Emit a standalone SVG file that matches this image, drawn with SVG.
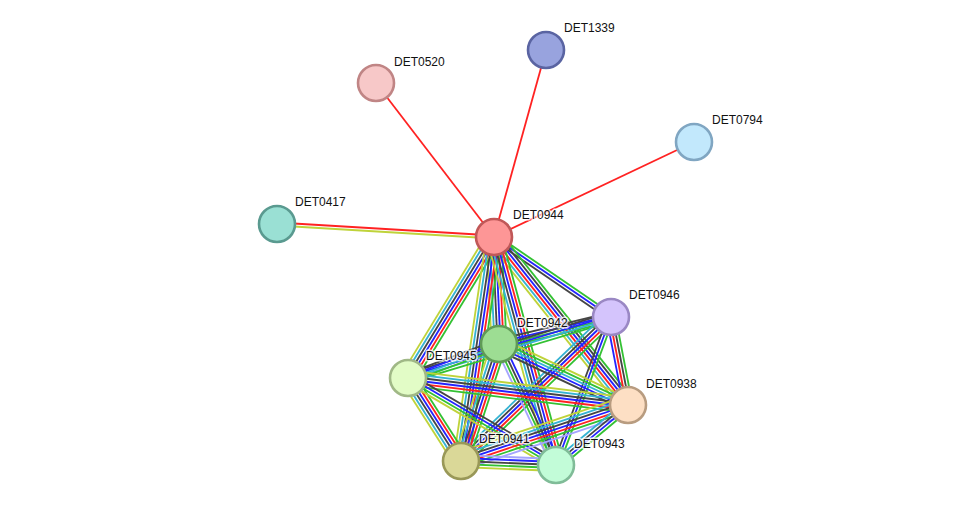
<svg xmlns="http://www.w3.org/2000/svg" width="975" height="511" viewBox="0 0 975 511">
<style>
line{stroke-width:1.8;fill:none}
#edges g line{stroke-width:1.6}
.g{stroke:#33c133}.r{stroke:#ff2222}.b{stroke:#2323ff}.k{stroke:#454545}.c{stroke:#35b3d3}.y{stroke:#bfd33a}.h{stroke:#a4a4ff}
circle{stroke-width:2.6}
text{font-family:"Liberation Sans",Arial,sans-serif;font-size:12px;fill:#111;stroke:#fff;stroke-width:3;stroke-opacity:0.8;paint-order:stroke;stroke-linejoin:round}
</style>
<rect width="975" height="511" fill="#fff"/>
<g id="edges">
<line class="r" x1="494" y1="237" x2="546" y2="50"/>
<line class="r" x1="494" y1="237" x2="376" y2="83"/>
<line class="r" x1="494" y1="237" x2="694" y2="142"/>
<line class="r" x1="494" y1="235.5" x2="277" y2="222.5"/>
<line class="y" x1="494" y1="238.5" x2="277" y2="225.5"/>
<!-- A-B -->
<g transform="translate(494,237) rotate(34.36) scale(1,1.15)"><line class="g" x2="141.7" y1="-2.6" y2="-2.6"/><line class="b" x2="141.7"/><line class="k" x2="141.7" y1="2.6" y2="2.6"/></g>
<!-- A-C -->
<g transform="translate(494,237) rotate(87.32) scale(1,1.15)"><line class="g" x2="107.1" y1="-6.5" y2="-6.5"/><line class="r" x2="107.1" y1="-3.9" y2="-3.9"/><line class="b" x2="107.1" y1="-1.3" y2="-1.3"/><line class="k" x2="107.1" y1="1.3" y2="1.3"/><line class="c" x2="107.1" y1="3.9" y2="3.9"/><line class="y" x2="107.1" y1="6.5" y2="6.5"/></g>
<!-- A-D -->
<g transform="translate(494,237) rotate(121.38) scale(1,1.15)"><line class="g" x2="165.2" y1="-6.5" y2="-6.5"/><line class="r" x2="165.2" y1="-3.9" y2="-3.9"/><line class="b" x2="165.2" y1="-1.3" y2="-1.3"/><line class="k" x2="165.2" y1="1.3" y2="1.3"/><line class="c" x2="165.2" y1="3.9" y2="3.9"/><line class="y" x2="165.2" y1="6.5" y2="6.5"/></g>
<!-- A-E -->
<g transform="translate(494,237) rotate(51.42) scale(1,1.15)"><line class="g" x2="214.9" y1="-6.5" y2="-6.5"/><line class="k" x2="214.9" y1="-3.9" y2="-3.9"/><line class="b" x2="214.9" y1="-1.3" y2="-1.3"/><line class="r" x2="214.9" y1="1.3" y2="1.3"/><line class="c" x2="214.9" y1="3.9" y2="3.9"/><line class="y" x2="214.9" y1="6.5" y2="6.5"/></g>
<!-- A-F -->
<g transform="translate(494,237) rotate(98.38) scale(1,1.15)"><line class="g" x2="226.4" y1="-6.5" y2="-6.5"/><line class="r" x2="226.4" y1="-3.9" y2="-3.9"/><line class="b" x2="226.4" y1="-1.3" y2="-1.3"/><line class="k" x2="226.4" y1="1.3" y2="1.3"/><line class="c" x2="226.4" y1="3.9" y2="3.9"/><line class="y" x2="226.4" y1="6.5" y2="6.5"/></g>
<!-- A-G -->
<g transform="translate(494,237) rotate(74.79) scale(1,1.15)"><line class="g" x2="236.3" y1="-6.5" y2="-6.5"/><line class="r" x2="236.3" y1="-3.9" y2="-3.9"/><line class="b" x2="236.3" y1="-1.3" y2="-1.3"/><line class="k" x2="236.3" y1="1.3" y2="1.3"/><line class="c" x2="236.3" y1="3.9" y2="3.9"/><line class="y" x2="236.3" y1="6.5" y2="6.5"/></g>
<!-- B-C -->
<g transform="translate(611,317) rotate(166.45) scale(1,1.15)"><line class="g" x2="115.2" y1="-3.9" y2="-3.9"/><line class="g" x2="115.2" y1="-1.3" y2="-1.3"/><line class="b" x2="115.2" y1="1.3" y2="1.3"/><line class="k" x2="115.2" y1="3.9" y2="3.9"/></g>
<!-- B-D -->
<g transform="translate(611,317) rotate(163.28) scale(1,1.15)"><line class="g" x2="212" y1="-3.9" y2="-3.9"/><line class="c" x2="212" y1="-1.3" y2="-1.3"/><line class="b" x2="212" y1="1.3" y2="1.3"/><line class="k" x2="212" y1="3.9" y2="3.9"/></g>
<!-- B-E -->
<g transform="translate(611,317) rotate(79.07) scale(1,1.15)"><line class="g" x2="89.6" y1="-3.9" y2="-3.9"/><line class="k" x2="89.6" y1="-1.3" y2="-1.3"/><line class="r" x2="89.6" y1="1.3" y2="1.3"/><line class="b" x2="89.6" y1="3.9" y2="3.9"/></g>
<!-- B-F -->
<g transform="translate(611,317) rotate(136.17) scale(1,1.15)"><line class="g" x2="207.9" y1="-5.2" y2="-5.2"/><line class="r" x2="207.9" y1="-2.6" y2="-2.6"/><line class="b" x2="207.9"/><line class="k" x2="207.9" y1="2.6" y2="2.6"/><line class="c" x2="207.9" y1="5.2" y2="5.2"/></g>
<!-- B-G -->
<g transform="translate(611,317) rotate(110.38) scale(1,1.15)"><line class="g" x2="157.9" y1="-2.6" y2="-2.6"/><line class="b" x2="157.9"/><line class="k" x2="157.9" y1="2.6" y2="2.6"/></g>
<!-- C-D -->
<g transform="translate(499,344) rotate(159.51) scale(1,1.15)"><line class="g" x2="97.1" y1="-3.9" y2="-3.9"/><line class="c" x2="97.1" y1="-1.3" y2="-1.3"/><line class="b" x2="97.1" y1="1.3" y2="1.3"/><line class="k" x2="97.1" y1="3.9" y2="3.9"/></g>
<!-- C-E -->
<g transform="translate(499,344) rotate(25.31) scale(1,1.15)"><line class="y" x2="142.7" y1="-5.2" y2="-5.2"/><line class="g" x2="142.7" y1="-2.6" y2="-2.6"/><line class="c" x2="142.7"/><line class="b" x2="142.7" y1="2.6" y2="2.6"/><line class="k" x2="142.7" y1="5.2" y2="5.2"/></g>
<!-- C-F -->
<g transform="translate(499,344) rotate(107.99) scale(1,1.15)"><line class="g" x2="123" y1="-6.5" y2="-6.5"/><line class="r" x2="123" y1="-3.9" y2="-3.9"/><line class="b" x2="123" y1="-1.3" y2="-1.3"/><line class="k" x2="123" y1="1.3" y2="1.3"/><line class="c" x2="123" y1="3.9" y2="3.9"/><line class="y" x2="123" y1="6.5" y2="6.5"/></g>
<!-- C-G -->
<g transform="translate(499,344) rotate(64.78) scale(1,1.15)"><line class="b" x2="133.8" y1="-3.9" y2="-3.9"/><line class="k" x2="133.8" y1="-1.3" y2="-1.3"/><line class="g" x2="133.8" y1="1.3" y2="1.3"/><line class="h" x2="133.8" y1="3.9" y2="3.9"/></g>
<!-- D-E -->
<g transform="translate(408,378) rotate(7) scale(1,1.15)"><line class="y" x2="221.7" y1="-6.5" y2="-6.5"/><line class="c" x2="221.7" y1="-3.9" y2="-3.9"/><line class="k" x2="221.7" y1="-1.3" y2="-1.3"/><line class="b" x2="221.7" y1="1.3" y2="1.3"/><line class="r" x2="221.7" y1="3.9" y2="3.9"/><line class="g" x2="221.7" y1="6.5" y2="6.5"/></g>
<!-- D-F -->
<g transform="translate(408,378) rotate(57.44) scale(1,1.15)"><line class="g" x2="98.5" y1="-6.5" y2="-6.5"/><line class="r" x2="98.5" y1="-3.9" y2="-3.9"/><line class="b" x2="98.5" y1="-1.3" y2="-1.3"/><line class="k" x2="98.5" y1="1.3" y2="1.3"/><line class="c" x2="98.5" y1="3.9" y2="3.9"/><line class="y" x2="98.5" y1="6.5" y2="6.5"/></g>
<!-- D-G -->
<g transform="translate(408,378) rotate(30.45) scale(1,1.15)"><line class="k" x2="171.7" y1="-3.9" y2="-3.9"/><line class="b" x2="171.7" y1="-1.3" y2="-1.3"/><line class="g" x2="171.7" y1="1.3" y2="1.3"/><line class="y" x2="171.7" y1="3.9" y2="3.9"/></g>
<!-- E-F -->
<g transform="translate(628,405) rotate(161.46) scale(1,1.15)"><line class="h" x2="176.1" y1="-7.8" y2="-7.8"/><line class="g" x2="176.1" y1="-5.2" y2="-5.2"/><line class="r" x2="176.1" y1="-2.6" y2="-2.6"/><line class="b" x2="176.1"/><line class="k" x2="176.1" y1="2.6" y2="2.6"/><line class="c" x2="176.1" y1="5.2" y2="5.2"/><line class="y" x2="176.1" y1="7.8" y2="7.8"/></g>
<!-- E-G -->
<g transform="translate(628,405) rotate(140.19) scale(1,1.15)"><line class="g" x2="93.7" y1="-3.9" y2="-3.9"/><line class="b" x2="93.7" y1="-1.3" y2="-1.3"/><line class="k" x2="93.7" y1="1.3" y2="1.3"/><line class="c" x2="93.7" y1="3.9" y2="3.9"/></g>
<!-- F-G -->
<g transform="translate(461,461) rotate(2.41) scale(1,1.15)"><line class="h" x2="95.1" y1="-5.2" y2="-5.2"/><line class="b" x2="95.1" y1="-2.6" y2="-2.6"/><line class="k" x2="95.1"/><line class="g" x2="95.1" y1="2.6" y2="2.6"/><line class="y" x2="95.1" y1="5.2" y2="5.2"/></g>
</g>
<g id="DET1339"><circle cx="546" cy="50" r="18" fill="#98a3de" stroke="#5a64a2"/><text x="564" y="32">DET1339</text></g>
<g id="DET0520"><circle cx="376" cy="83" r="18" fill="#f7c8c8" stroke="#c08585"/><text x="394" y="66">DET0520</text></g>
<g id="DET0794"><circle cx="694" cy="142" r="18" fill="#c2e8fc" stroke="#80a6c2"/><text x="712" y="124">DET0794</text></g>
<g id="DET0417"><circle cx="277" cy="224" r="18" fill="#9ae0d4" stroke="#5a9a90"/><text x="295" y="206">DET0417</text></g>
<g id="DET0944"><circle cx="494" cy="237" r="18" fill="#fd9696" stroke="#c05858"/><text x="513" y="219">DET0944</text></g>
<g id="DET0946"><circle cx="611" cy="317" r="18" fill="#d4c4fc" stroke="#9a88c4"/><text x="629" y="299">DET0946</text></g>
<g id="DET0942"><circle cx="499" cy="344" r="18" fill="#9ddd93" stroke="#5f9a56"/><text x="517" y="327">DET0942</text></g>
<g id="DET0945"><circle cx="408" cy="378" r="18" fill="#e2fcc6" stroke="#a0b886"/><text x="426" y="360">DET0945</text></g>
<g id="DET0938"><circle cx="628" cy="405" r="18" fill="#fddfc4" stroke="#b89c80"/><text x="646" y="388">DET0938</text></g>
<g id="DET0941"><circle cx="461" cy="461" r="18" fill="#dad898" stroke="#999858"/><text x="479" y="443">DET0941</text></g>
<g id="DET0943"><circle cx="556" cy="465" r="18" fill="#c2fcd8" stroke="#80bc98"/><text x="574" y="448">DET0943</text></g>
</svg>
